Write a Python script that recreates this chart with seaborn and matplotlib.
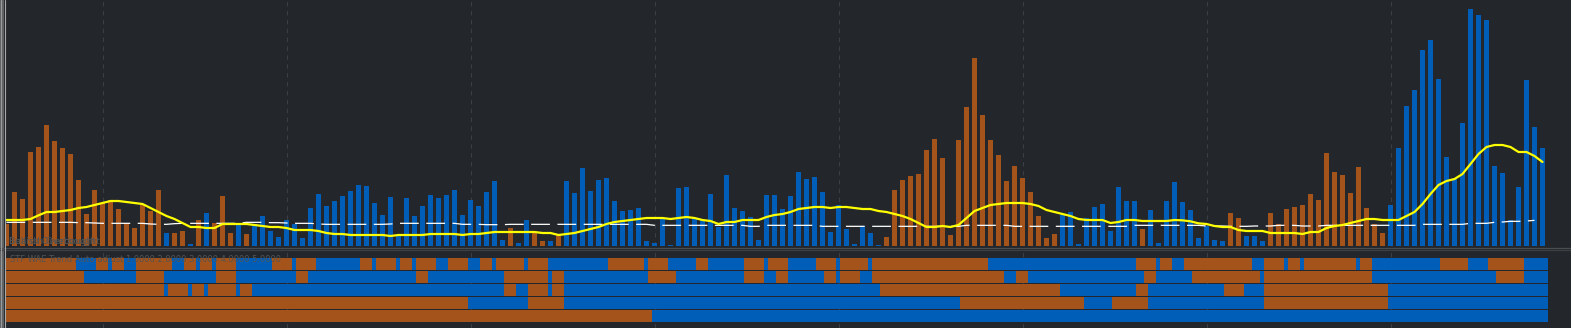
import numpy as np
import pandas as pd
import matplotlib
matplotlib.use("Agg")
import matplotlib.pyplot as plt
import seaborn as sns
from matplotlib.lines import Line2D
from matplotlib.patches import Rectangle

BG = "#23272b"
ORANGE = "#a4531a"
BLUE = "#005db8"

# ---- histogram bars (one per bar index) ----
bar_height = [
    66, 162, 141, 282, 297, 363, 315, 294, 276, 198,
    96, 168, 129, 138, 111, 69, 54, 123, 105, 168,
    39, 39, 45, 6, 78, 99, 69, 150, 39, 66,
    36, 66, 90, 45, 27, 78, 66, 24, 114, 156,
    120, 135, 150, 165, 183, 180, 129, 93, 147, 33,
    144, 90, 120, 153, 144, 153, 168, 93, 138, 120,
    162, 195, 18, 54, 9, 78, 39, 15, 15, 33,
    195, 159, 234, 165, 198, 204, 135, 105, 108, 114,
    15, 9, 81, 3, 174, 177, 81, 78, 156, 57,
    213, 114, 105, 87, 18, 153, 153, 111, 150, 222,
    201, 207, 162, 42, 123, 51, 6, 60, 39, 3,
    27, 168, 198, 210, 216, 288, 321, 264, 33, 318,
    417, 564, 393, 318, 273, 195, 240, 204, 162, 90,
    24, 36, 93, 102, 6, 84, 117, 126, 45, 177,
    135, 135, 51, 108, 9, 135, 192, 132, 108, 24,
    60, 18, 15, 99, 84, 30, 30, 15, 99, 66,
    111, 117, 123, 156, 138, 279, 222, 213, 159, 237,
    114, 66, 39, 123, 294, 420, 468, 588, 618, 501,
    267, 201, 369, 711, 693, 678, 240, 219, 78, 177,
    498, 357, 294,
]
# o = bearish (orange), b = bullish (blue)
bar_dir = ("o" * 20 + "boobobooobo" + "b" * 32 + "obboobo" + "b" * 40 +
           "o" * 22 + "b" * 10 + "o" + "b" * 10 + "oo" + "bbb" + "o" * 15 + "b" * 20)

# ---- yellow signal line ----
signal_line = [
    78, 78, 78, 81, 92, 102, 102, 105, 108, 114,
    117, 123, 129, 135, 135, 132, 129, 126, 114, 102,
    90, 81, 69, 57, 57, 54, 54, 66, 66, 66,
    66, 63, 60, 57, 57, 54, 48, 48, 48, 45,
    39, 36, 36, 33, 33, 33, 33, 33, 30, 33,
    33, 33, 33, 36, 36, 36, 36, 33, 36, 36,
    39, 42, 42, 42, 42, 42, 42, 39, 39, 33,
    36, 39, 45, 51, 57, 66, 72, 75, 78, 81,
    84, 84, 84, 81, 84, 87, 84, 78, 75, 66,
    72, 72, 78, 78, 78, 87, 93, 96, 102, 111,
    114, 117, 117, 114, 117, 117, 114, 111, 111, 105,
    102, 96, 90, 81, 69, 57, 57, 60, 57, 63,
    84, 105, 114, 123, 126, 129, 129, 129, 126, 120,
    108, 102, 96, 90, 81, 78, 78, 78, 69, 72,
    78, 78, 75, 75, 75, 75, 78, 77, 74, 68,
    66, 60, 57, 57, 48, 45, 45, 45, 39, 39,
    39, 39, 36, 42, 42, 54, 60, 63, 69, 75,
    81, 81, 78, 78, 78, 90, 102, 126, 156, 183,
    195, 201, 216, 246, 276, 297, 303, 303, 297, 282,
    282, 270, 252,
]

# ---- white dashed threshold line ----
threshold_line = [
    71, 71, 71, 71, 71, 71, 71, 71, 71, 70,
    70, 69, 68, 68, 68, 68, 68, 68, 66, 65,
    65, 67, 68, 68, 68, 68, 68, 68, 68, 68,
    71, 71, 71, 70, 70, 69, 68, 68, 68, 66,
    65, 65, 65, 65, 65, 65, 65, 65, 66, 68,
    68, 68, 68, 68, 68, 68, 68, 65, 65, 65,
    64, 64, 64, 65, 65, 65, 65, 65, 65, 65,
    65, 65, 65, 65, 65, 65, 65, 65, 65, 65,
    65, 62, 62, 62, 62, 62, 62, 62, 62, 62,
    62, 62, 62, 59, 59, 62, 62, 62, 62, 62,
    62, 62, 59, 59, 59, 59, 59, 59, 59, 59,
    59, 59, 59, 59, 59, 59, 59, 59, 59, 59,
    62, 62, 62, 62, 62, 62, 59, 59, 59, 59,
    59, 59, 59, 59, 59, 59, 59, 59, 59, 59,
    59, 62, 62, 62, 62, 62, 62, 62, 62, 62,
    60, 60, 60, 59, 59, 59, 60, 60, 60, 62,
    62, 62, 60, 60, 60, 62, 62, 62, 62, 62,
    62, 62, 62, 62, 62, 62, 62, 65, 65, 65,
    65, 65, 65, 68, 68, 68, 71, 72, 74, 74,
    75, 77,
]

# ---- multi-timeframe trend rows (half-bar cells; state flips at these cells) ----
n_cells = 387
row_start = ["o", "o", "o", "o", "o"]
row1_flips = [19, 24, 27, 28, 31, 34, 43, 46, 49, 50, 53, 54, 59, 68, 73, 74, 79, 90, 93, 94,
              99, 100, 103, 104, 109, 112, 117, 120, 123, 124, 131, 132, 137, 152, 161, 162,
              167, 174, 177, 186, 191, 192, 197, 204, 209, 210, 217, 218, 247, 284, 289, 290,
              293, 296, 313, 316, 321, 322, 325, 326, 339, 340, 343, 360, 367, 372, 381]
row2_flips = [21, 34, 41, 54, 59, 74, 77, 104, 107, 126, 137, 138, 141, 162, 169, 186, 191,
              194, 197, 206, 209, 210, 215, 218, 251, 254, 257, 286, 289, 298, 315, 316, 343,
              374, 381]
row3_flips = [41, 42, 47, 48, 51, 52, 59, 60, 63, 126, 129, 132, 137, 138, 141, 220, 265,
              284, 287, 306, 311, 316, 347]
row4_flips = [117, 132, 141, 240, 271, 278, 287, 316, 347]
row5_flips = [163]
row_flips = [row1_flips, row2_flips, row3_flips, row4_flips, row5_flips]

panel_title = "STF WAE Trend Auto-adjust 1.0000 2.0000 3.0000 4.0000 5.0000"
zone_labels = ["Bullish Overbought", "Bearish Overbought"]
grid_bars = [12, 35, 58, 81, 104, 127, 150, 173]

# ---------------------------------------------------------------
sns.set_theme(style="dark", rc={"axes.facecolor": BG, "figure.facecolor": BG})
plt.rcParams["font.family"] = ["DejaVu Sans"]

W, H = 1571, 328
fig = plt.figure(figsize=(W / 100, H / 100), dpi=100)
fig.patch.set_facecolor(BG)

def fx(px):
    return px / W

def fy(py):
    return 1 - py / H

# top panel: pixel 6..1571 horizontally, 0..246 vertically
ax = fig.add_axes([fx(6), fy(246), (W - 6) / W, 246 / H])
ax.set_facecolor(BG)

df = pd.DataFrame({"idx": np.arange(len(bar_height)), "val": bar_height, "dir": list(bar_dir)})
grid_col = "#3a3f45"
for g in grid_bars:
    ax.axvline(g, color=grid_col, lw=0.8, ls=(0, (4, 4)), zorder=0)

sns.barplot(data=df, x="idx", y="val", hue="dir", palette={"o": ORANGE, "b": BLUE},
            dodge=False, width=0.62, errorbar=None, legend=False, saturation=1,
            linewidth=0, ax=ax, zorder=2)

sns.lineplot(x=np.arange(len(threshold_line)), y=threshold_line, color="white",
             lw=0.9, linestyle=(0, (15, 6)), ax=ax, zorder=3)
sns.lineplot(x=np.arange(len(signal_line)), y=signal_line, color="#ffff00",
             lw=1.6, ax=ax, zorder=4)

ax.set_xlim(-0.0625, 195.5625)
ax.set_ylim(0, 738)
ax.set_xticks([])
ax.set_yticks([])
ax.set_xlabel("")
ax.set_ylabel("")
for s in ax.spines.values():
    s.set_visible(False)

# bottom panel: pixel 6..1571 horizontally, 249..328 vertically
ax2 = fig.add_axes([fx(6), fy(328), (W - 6) / W, (328 - 249) / H])
ax2.set_facecolor(BG)
for g in grid_bars:
    ax2.axvline((6.5 + 8 * g) / 4, color=grid_col, lw=0.8, ls=(0, (4, 4)), zorder=0)

for r, flips in enumerate(row_flips):
    edges = [0] + flips + [n_cells]
    state = row_start[r]
    lefts, widths, cols = [], [], []
    for a, b in zip(edges[:-1], edges[1:]):
        lefts.append(a)
        widths.append(b - a)
        cols.append(ORANGE if state == "o" else BLUE)
        state = "b" if state == "o" else "o"
    ax2.barh([258 + 13 * r + 6] * len(lefts), widths, left=lefts, height=12,
             color=cols, linewidth=0, zorder=2)

ax2.set_xlim(1.5, 392.75)
ax2.set_ylim(328, 249)
ax2.set_xticks([])
ax2.set_yticks([])
for s in ax2.spines.values():
    s.set_visible(False)

# panel separator lines
fig.add_artist(Line2D([0, 1], [fy(247.5), fy(247.5)], color="#4a4d50", lw=0.9))
fig.add_artist(Line2D([0, 1], [fy(249.5), fy(249.5)], color="#3d4043", lw=0.9))

# left border
fig.add_artist(Rectangle((0, 0), fx(4), 1, color="#5f6265", lw=0))
fig.add_artist(Line2D([fx(0.5), fx(0.5)], [0, 1], color="#9a9a9a", lw=0.8))
fig.add_artist(Line2D([fx(4.5), fx(4.5)], [0, 1], color="#a8a8a8", lw=0.8))

# texts
for lab in zone_labels:
    fig.text(fx(9), fy(244), lab, color="#545454", fontsize=6.5, va="baseline",
             ha="left", zorder=10)
fig.text(fx(10), fy(262), panel_title, color="#545454", fontsize=6.0, va="baseline",
         ha="left", zorder=10)

fig.savefig("out.png", dpi=100, facecolor=BG)
